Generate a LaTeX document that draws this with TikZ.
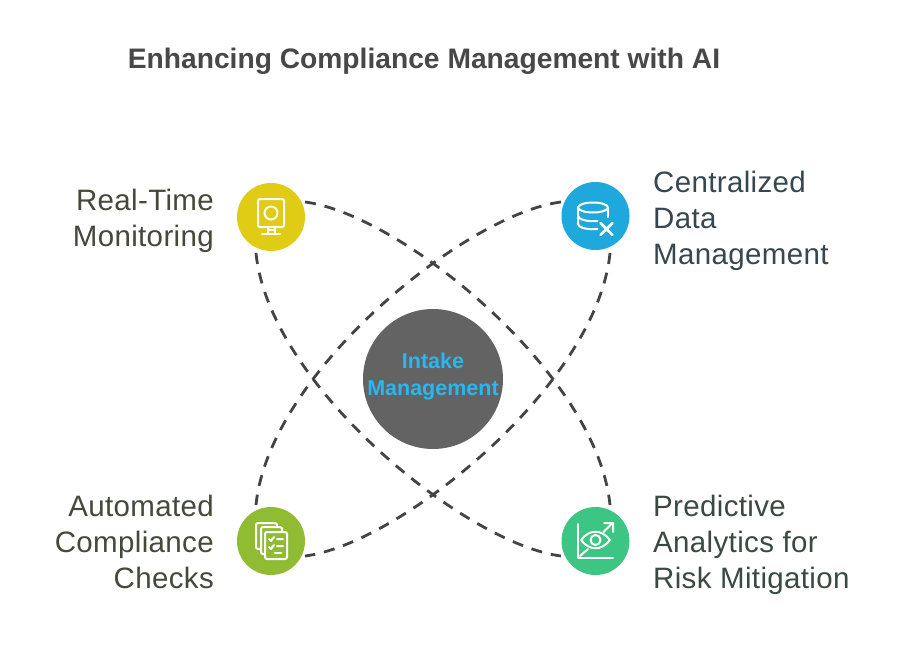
\documentclass[tikz,border=0pt]{standalone}
\usepackage{fontspec}
\setmainfont{Liberation Sans}
\newfontfamily\labfont[LetterSpace=1.2]{Liberation Sans}
\definecolor{cyel}{HTML}{E0CB15}
\definecolor{cblu}{HTML}{1EA8DC}
\definecolor{cgrn}{HTML}{90BC34}
\definecolor{ctea}{HTML}{3CC583}
\definecolor{cmid}{HTML}{636363}
\definecolor{ctxt}{HTML}{29B6F2}
\definecolor{ctitle}{HTML}{484848}
\definecolor{dashc}{HTML}{444444}
\definecolor{tya}{HTML}{45483A}
\definecolor{tbl}{HTML}{37474F}
\definecolor{tgr}{HTML}{434A3A}
\definecolor{tte}{HTML}{3A4A42}
\tikzset{
  hub/.style={circle,minimum size=68pt,inner sep=0pt},
  link/.style={dashc,line width=2.8pt,dash pattern=on 11pt off 9pt},
  lab/.style={font=\labfont\fontsize{29.5}{36}\selectfont,inner sep=0pt},
  ico/.style={white,line width=2pt,line cap=round,line join=round}
}
\begin{document}
\begin{tikzpicture}[x=1pt,y=-1pt]
\useasboundingbox (0,0) rectangle (903,669);
\fill[white] (0,0) rectangle (903,669);
\node[font=\bfseries\fontsize{28.2}{32}\selectfont,text=ctitle,inner sep=0pt] (title) at (424,61) {Enhancing Compliance Management with AI};
\node[hub,fill=cyel] (a) at (271,217) {};
\node[hub,fill=cblu] (b) at (595.5,216) {};
\node[hub,fill=cgrn] (c) at (271,541) {};
\node[hub,fill=ctea] (d) at (595.5,541) {};
\node[circle,minimum size=140pt,inner sep=0pt,fill=cmid] (m) at (433,379) {};
\node[align=center,text=ctxt,inner sep=0pt,font=\bfseries\fontsize{21.5}{27}\selectfont] (mlabel) at (433,376) {Intake\\[0pt]Management};
\coordinate (a1) at (305,202);
\coordinate (a2) at (256,253);
\coordinate (b1) at (561,202);
\coordinate (b2) at (610,253);
\coordinate (c1) at (256,505);
\coordinate (c2) at (305,556);
\coordinate (d1) at (610,505);
\coordinate (d2) at (561,556);
\draw[link] (a1) .. controls (400,214) and (597,373) .. (d1);
\draw[link] (a2) .. controls (269,385) and (466,544) .. (d2);
\draw[link] (b1) .. controls (466,214) and (269,373) .. (c1);
\draw[link] (b2) .. controls (597,385) and (400,544) .. (c2);
\node[lab,text=tya,align=right,anchor=east] (la) at (214,221) {Real-Time\\Monitoring};
\node[lab,text=tbl,align=left,anchor=west] (lb) at (653,221) {Centralized\\Data\\Management};
\node[lab,text=tgr,align=right,anchor=east] (lc) at (214,542) {Automated\\Compliance\\Checks};
\node[lab,text=tte,align=left,anchor=west] (ld) at (653,545) {Predictive\\Analytics for\\Risk Mitigation};
% monitor icon
\begin{scope}[shift={(a.center)},ico]
\draw[rounded corners=2pt] (-13,-18) rectangle (13,10);
\draw (0,-4) circle (6.5);
\draw (-3,10) -- (-3,17) (4,10) -- (4,17) (-3,13) -- (4,13) (-9,17) -- (9,17);
\end{scope}
% database icon
\begin{scope}[shift={(b.center)},ico]
\draw (-2.5,-8.5) ellipse (15 and 5);
\draw (-17.5,-8.5) -- (-17.5,8) .. controls (-17.5,11) and (-10,14) .. (2,13);
\draw (-17.5,0) .. controls (-17.5,3) and (-9,6) .. (2,5);
\draw (12.5,-8.5) -- (12.5,1);
\draw[line width=2.6pt] (5,7) -- (17,19) (17,7) -- (5,19);
\end{scope}
% documents icon
\begin{scope}[shift={(c.center)},ico]
\draw[fill=cgrn,rounded corners=1.5pt] (-15,-18) rectangle (6,8);
\draw[fill=cgrn,rounded corners=1.5pt] (-10,-14) rectangle (11,13);
\draw[fill=cgrn,rounded corners=1.5pt] (-6,-9) rectangle (16,18);
\draw (-2,-2) -- (0,0) -- (3,-4) (6,-2) -- (12,-2);
\draw (-2,6) -- (0,8) -- (3,4) (6,5) -- (12,5);
\draw[line width=2.8pt] (4,12) -- (10,12);
\end{scope}
% analytics icon
\begin{scope}[shift={(d.center)},ico]
\draw (-17.5,-17) -- (-17.5,17) -- (17.5,17);
\draw (-15.5,15) -- (-7.5,8);
\draw (8,-9) -- (17,-18) (8.5,-18) -- (17.5,-18) -- (17.5,-9);
\draw (-14.5,-1) .. controls (-6,-12) and (6,-12) .. (14.5,-1) .. controls (6,10) and (-6,10) .. (-14.5,-1) -- cycle;
\draw (0,-1) circle (5);
\end{scope}
\end{tikzpicture}
\end{document}
